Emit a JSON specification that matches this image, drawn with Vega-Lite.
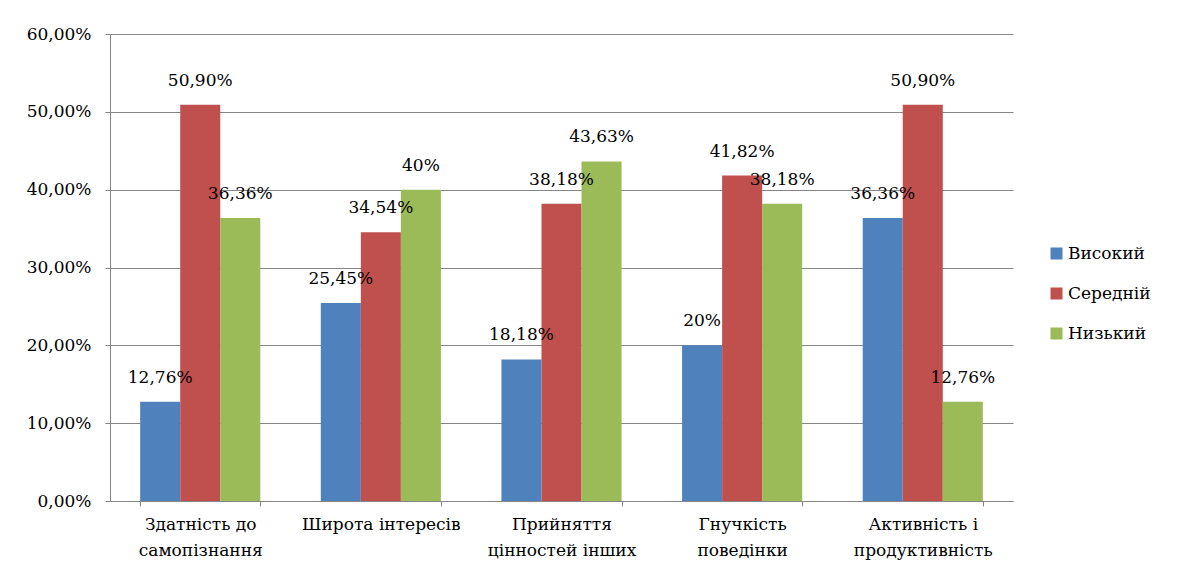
{
  "$schema": "https://vega.github.io/schema/vega-lite/v6.json",
  "autosize": {"type": "none"},
  "width": 903,
  "height": 467,
  "padding": {"left": 110, "top": 34, "right": 169, "bottom": 75},
  "background": "white",
  "config": {
    "locale": {"number": {"decimal": ",", "thousands": " ", "grouping": [3], "currency": ["", " ₴"]}},
    "font": "DejaVu Serif",
    "view": {"stroke": null},
    "text": {"font": "DejaVu Serif"},
    "legend": {"labelFont": "DejaVu Serif"},
    "axis": {"labelFont": "DejaVu Serif", "labelColor": "#000000", "domainColor": "#868686", "tickColor": "#868686", "gridColor": "#868686"}
  },
  "data": {
    "values": [
      {"category": "Здатність до|самопізнання", "level": "Високий", "value": 0.1276, "label": "12,76%"},
      {"category": "Здатність до|самопізнання", "level": "Середній", "value": 0.509, "label": "50,90%"},
      {"category": "Здатність до|самопізнання", "level": "Низький", "value": 0.3636, "label": "36,36%"},
      {"category": "Широта інтересів", "level": "Високий", "value": 0.2545, "label": "25,45%"},
      {"category": "Широта інтересів", "level": "Середній", "value": 0.3454, "label": "34,54%"},
      {"category": "Широта інтересів", "level": "Низький", "value": 0.40, "label": "40%"},
      {"category": "Прийняття|цінностей інших", "level": "Високий", "value": 0.1818, "label": "18,18%"},
      {"category": "Прийняття|цінностей інших", "level": "Середній", "value": 0.3818, "label": "38,18%"},
      {"category": "Прийняття|цінностей інших", "level": "Низький", "value": 0.4363, "label": "43,63%"},
      {"category": "Гнучкість|поведінки", "level": "Високий", "value": 0.20, "label": "20%"},
      {"category": "Гнучкість|поведінки", "level": "Середній", "value": 0.4182, "label": "41,82%"},
      {"category": "Гнучкість|поведінки", "level": "Низький", "value": 0.3818, "label": "38,18%"},
      {"category": "Активність і|продуктивність", "level": "Високий", "value": 0.3636, "label": "36,36%"},
      {"category": "Активність і|продуктивність", "level": "Середній", "value": 0.509, "label": "50,90%"},
      {"category": "Активність і|продуктивність", "level": "Низький", "value": 0.1276, "label": "12,76%"}
    ]
  },
  "encoding": {
    "x": {
      "field": "category", "type": "nominal", "sort": null, "title": null,
      "scale": {"paddingInner": 0.335, "paddingOuter": 0.167},
      "axis": {"labelAngle": 0, "labelExpr": "datum.value ? split(datum.value, '|') : ''", "labelFontSize": 17, "labelLineHeight": 26, "labelPadding": 10, "tickBand": "extent", "tickSize": 5, "grid": false, "labelBaseline": "top"}
    },
    "xOffset": {"field": "level", "type": "nominal", "sort": ["Високий", "Середній", "Низький"], "scale": {"paddingInner": 0, "paddingOuter": 0}},
    "y": {
      "field": "value", "type": "quantitative", "title": null,
      "scale": {"domain": [0, 0.6], "nice": false},
      "axis": {"format": ".2%", "values": [0, 0.1, 0.2, 0.3, 0.4, 0.5, 0.6], "labelFontSize": 17, "tickSize": 5, "labelPadding": 14, "grid": true}
    }
  },
  "layer": [
    {
      "mark": {"type": "bar"},
      "encoding": {
        "color": {
          "field": "level", "type": "nominal", "sort": ["Високий", "Середній", "Низький"],
          "scale": {"domain": ["Високий", "Середній", "Низький"], "range": ["#4F81BD", "#C0504D", "#9BBB59"]},
          "legend": {"title": null, "orient": "none", "legendX": 938, "legendY": 211, "symbolType": "square", "symbolSize": 144, "symbolStrokeWidth": 0, "labelFontSize": 17, "labelFont": "DejaVu Serif", "labelColor": "#000000", "rowPadding": 22, "labelOffset": 3}
        }
      }
    },
    {
      "mark": {"type": "text", "fontSize": 17, "font": "DejaVu Serif", "color": "#000000", "baseline": "middle", "dy": -24},
      "encoding": {"text": {"field": "label"}}
    }
  ]
}
